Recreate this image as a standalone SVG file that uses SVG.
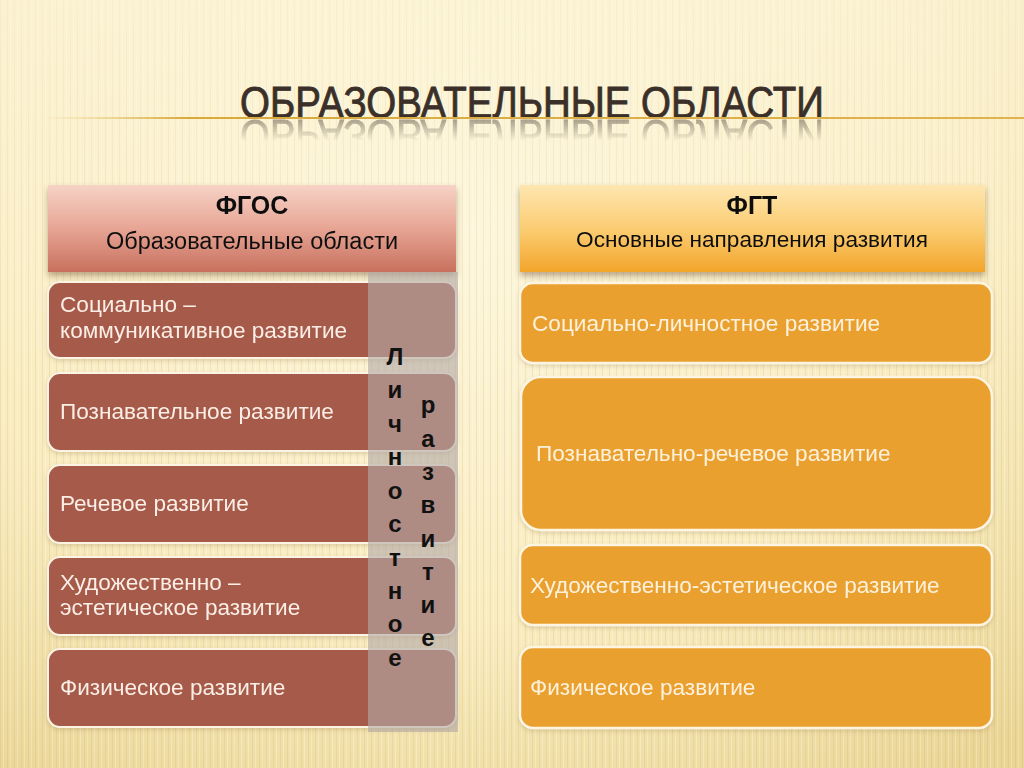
<svg xmlns="http://www.w3.org/2000/svg" width="1024" height="768" viewBox="0 0 1024 768">
<defs>
<radialGradient id="bg" cx="0.45" cy="0.3" r="0.85">
<stop offset="0" stop-color="#fdf6dc"/>
<stop offset="0.6" stop-color="#f9ecc0"/>
<stop offset="1" stop-color="#ead595"/>
</radialGradient>
<pattern id="stripes" width="7" height="768" patternUnits="userSpaceOnUse">
<rect x="0" y="0" width="1" height="768" fill="#c9ad6a" opacity="0.2"/>
<rect x="3" y="0" width="1" height="768" fill="#ffffff" opacity="0.25"/>
</pattern>
<linearGradient id="fade" x1="0" y1="0" x2="0" y2="1">
<stop offset="0" stop-color="#fdf6dc" stop-opacity="0.6"/>
<stop offset="0.5" stop-color="#fdf6dc" stop-opacity="0"/>
<stop offset="1" stop-color="#fdf6dc" stop-opacity="0"/>
</linearGradient>
<linearGradient id="rule" x1="0" y1="0" x2="1" y2="0">
<stop offset="0" stop-color="#e8c36a" stop-opacity="0"/>
<stop offset="0.15" stop-color="#d9a93c"/>
<stop offset="1" stop-color="#e0b350"/>
</linearGradient>
<linearGradient id="hdrL" x1="0" y1="0" x2="0" y2="1">
<stop offset="0" stop-color="#f6d3c6"/>
<stop offset="0.5" stop-color="#e7a594"/>
<stop offset="1" stop-color="#c8705e"/>
</linearGradient>
<linearGradient id="hdrR" x1="0" y1="0" x2="0" y2="1">
<stop offset="0" stop-color="#fee6b0"/>
<stop offset="0.5" stop-color="#fbcd73"/>
<stop offset="1" stop-color="#f3a52a"/>
</linearGradient>
<linearGradient id="reflG" x1="0" y1="0" x2="0" y2="1">
<stop offset="0" stop-color="#fff" stop-opacity="0.55"/>
<stop offset="1" stop-color="#fff" stop-opacity="0"/>
</linearGradient>
<mask id="reflM" maskUnits="userSpaceOnUse" x="0" y="118" width="1024" height="40">
<rect x="0" y="119" width="1024" height="22" fill="url(#reflG)"/>
</mask>
<filter id="shadow" x="-5%" y="-10%" width="110%" height="130%">
<feDropShadow dx="0" dy="4" stdDeviation="3" flood-color="#6b4a20" flood-opacity="0.45"/>
</filter>
<filter id="soft" x="-5%" y="-10%" width="110%" height="130%">
<feDropShadow dx="0" dy="2" stdDeviation="2" flood-color="#8a6a30" flood-opacity="0.25"/>
</filter>
<style>
.title{font-family:"Liberation Sans",Arial,sans-serif;font-size:44px;fill:#3b3029;stroke:#3b3029;stroke-width:0.9}
.hb{font-family:"Liberation Sans",Arial,sans-serif;font-size:25px;font-weight:bold;fill:#111;text-anchor:middle}
.hs{font-family:"Liberation Sans",Arial,sans-serif;fill:#111;text-anchor:middle}
.lbox{fill:#a65a49;stroke:#fbf3e3;stroke-width:2}
.rbox{fill:#eaa02f;stroke:#fdf5e2;stroke-width:2.5}
.bt{font-family:"Liberation Sans",Arial,sans-serif;font-size:22.6px;fill:#fbeee6}
.rt{font-family:"Liberation Sans",Arial,sans-serif;font-size:22.6px;fill:#fdf1dc}
.vt{font-family:"Liberation Sans",Arial,sans-serif;font-size:24px;font-weight:bold;fill:#111;text-anchor:middle}
</style>
</defs>

<rect width="1024" height="768" fill="url(#bg)"/>
<rect width="1024" height="768" fill="url(#stripes)"/>
<rect width="1024" height="768" fill="url(#fade)"/>

<g id="title">
<text class="title" x="240" y="118" textLength="584" lengthAdjust="spacingAndGlyphs">ОБРАЗОВАТЕЛЬНЫЕ ОБЛАСТИ</text>
<g mask="url(#reflM)">
<text class="title" x="240" y="-120" textLength="584" lengthAdjust="spacingAndGlyphs" transform="scale(1,-1)" opacity="0.8">ОБРАЗОВАТЕЛЬНЫЕ ОБЛАСТИ</text>
</g>
<rect x="40" y="117" width="984" height="2" fill="url(#rule)"/>
</g>

<g id="fgos-header" filter="url(#shadow)">
<rect x="48" y="185" width="408" height="87" fill="url(#hdrL)"/>
<text class="hb" x="252" y="214">ФГОС</text>
<text class="hs" x="252" y="249" font-size="23.5">Образовательные области</text>
</g>

<g id="fgt-header" filter="url(#shadow)">
<rect x="520" y="185" width="465" height="87" fill="url(#hdrR)"/>
<text class="hb" x="752" y="214">ФГТ</text>
<text class="hs" x="752" y="247" font-size="22.6">Основные направления развития</text>
</g>

<g id="left-boxes" filter="url(#soft)">
<g id="l1"><rect class="lbox" x="48" y="282" width="408" height="76" rx="12"/>
<text class="bt" x="60" y="312">Социально –</text>
<text class="bt" x="60" y="338">коммуникативное развитие</text></g>
<g id="l2"><rect class="lbox" x="48" y="373" width="408" height="78" rx="12"/>
<text class="bt" x="60" y="419">Познавательное развитие</text></g>
<g id="l3"><rect class="lbox" x="48" y="465" width="408" height="78" rx="12"/>
<text class="bt" x="60" y="511">Речевое развитие</text></g>
<g id="l4"><rect class="lbox" x="48" y="557" width="408" height="78" rx="12"/>
<text class="bt" x="60" y="590">Художественно –</text>
<text class="bt" x="60" y="615">эстетическое развитие</text></g>
<g id="l5"><rect class="lbox" x="48" y="649" width="408" height="78" rx="12"/>
<text class="bt" x="60" y="695">Физическое развитие</text></g>
</g>

<g id="personal-column">
<rect x="368" y="272" width="90" height="460" fill="#b3aaa8" opacity="0.62"/>
<text class="vt" x="395" y="365">Л</text>
<text class="vt" x="395" y="398">и</text>
<text class="vt" x="395" y="432">ч</text>
<text class="vt" x="395" y="465">н</text>
<text class="vt" x="395" y="499">о</text>
<text class="vt" x="395" y="532">с</text>
<text class="vt" x="395" y="566">т</text>
<text class="vt" x="395" y="599">н</text>
<text class="vt" x="395" y="632">о</text>
<text class="vt" x="395" y="666">е</text>
<text class="vt" x="428" y="413">р</text>
<text class="vt" x="428" y="447">а</text>
<text class="vt" x="428" y="480">з</text>
<text class="vt" x="428" y="513">в</text>
<text class="vt" x="428" y="547">и</text>
<text class="vt" x="428" y="580">т</text>
<text class="vt" x="428" y="613">и</text>
<text class="vt" x="428" y="646">е</text>
</g>

<g id="right-boxes" filter="url(#soft)">
<g id="r1"><rect class="rbox" x="520" y="283" width="472" height="80" rx="13"/>
<text class="rt" x="532" y="331">Социально-личностное развитие</text></g>
<g id="r2"><rect class="rbox" x="521" y="377" width="471" height="153" rx="20"/>
<text class="rt" x="536" y="461">Познавательно-речевое развитие</text></g>
<g id="r3"><rect class="rbox" x="520" y="545" width="472" height="80" rx="13"/>
<text class="rt" x="530" y="593">Художественно-эстетическое развитие</text></g>
<g id="r4"><rect class="rbox" x="520" y="647" width="472" height="81" rx="13"/>
<text class="rt" x="530" y="695">Физическое развитие</text></g>
</g>
</svg>
